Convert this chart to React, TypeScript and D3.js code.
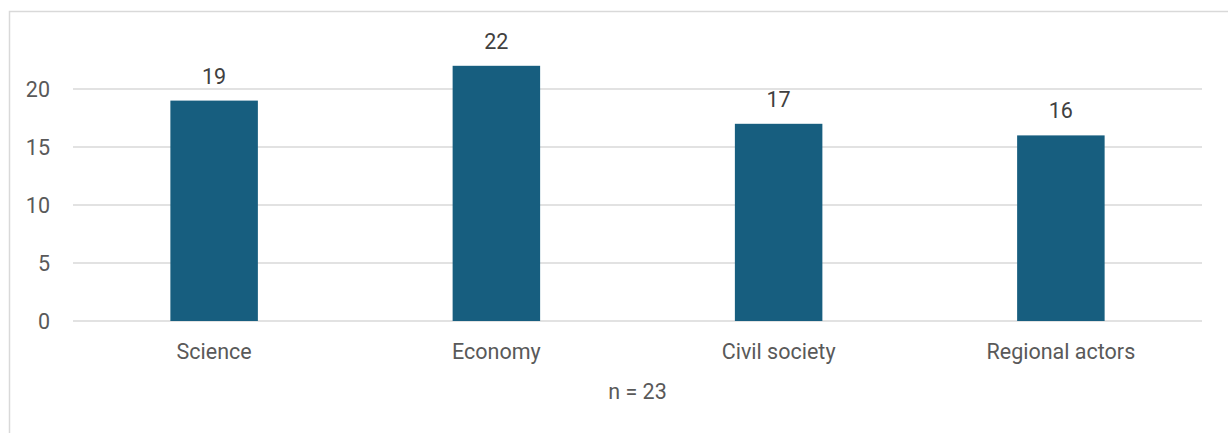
import React from "react";
import * as d3 from "d3";

const categories = ["Science", "Economy", "Civil society", "Regional actors"];
const values = [19, 22, 17, 16];
const yTicks = [0, 5, 10, 15, 20];
const note = "n = 23";

const W = 1228;
const H = 433;

export default function App() {
  const left = 73;
  const right = 1202;
  const x = d3.scaleBand<string>().domain(categories).range([left, right]).paddingInner(0.69).paddingOuter(0.345);
  const y = d3.scaleLinear().domain([0, 20]).range([321, 89]);
  const font = "Roboto, 'Liberation Sans', Arial, sans-serif";
  const fs = 21.5;
  return (
    <svg width={W} height={H} style={{ position: "absolute", left: 0, top: 0 }} fontFamily={font}>
      <rect x={0} y={0} width={W} height={H} fill="#fff" />
      <rect x={9.5} y={11.5} width={W + 10} height={H + 10} fill="none" stroke="#d9d9d9" strokeWidth={1.5} />
      {yTicks.map((t) => (
        <g key={t}>
          <line x1={left} x2={right} y1={y(t)} y2={y(t)} stroke="#d9d9d9" strokeWidth={1.5} />
          <text x={50} y={y(t) + 7.5} textAnchor="end" fontSize={fs} fill="#595959">{t}</text>
        </g>
      ))}
      {categories.map((c, i) => (
        <g key={c}>
          <rect x={x(c)} y={y(values[i])} width={x.bandwidth()} height={y(0) - y(values[i])} fill="#175E7F" />
          <text x={(x(c) as number) + x.bandwidth() / 2} y={y(values[i]) - 17} textAnchor="middle" fontSize={fs} fill="#404040">{values[i]}</text>
          <text x={(x(c) as number) + x.bandwidth() / 2} y={359} textAnchor="middle" fontSize={fs} fill="#595959">{c}</text>
        </g>
      ))}
      <text x={(left + right) / 2} y={399} textAnchor="middle" fontSize={fs} fill="#595959">{note}</text>
    </svg>
  );
}
